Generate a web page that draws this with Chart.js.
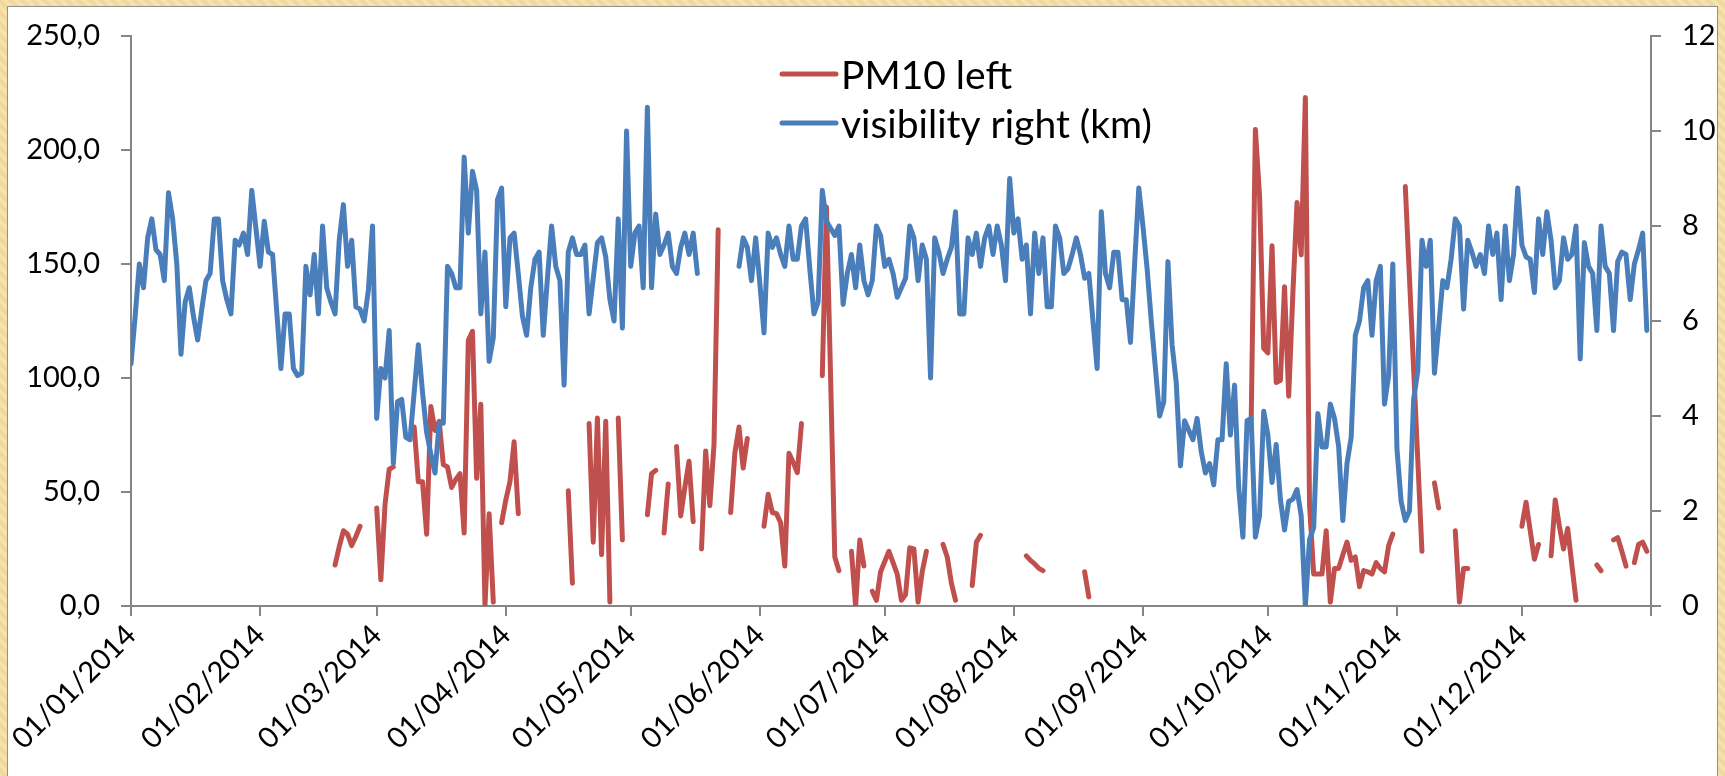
<!DOCTYPE html>
<html>
<head>
<meta charset="utf-8">
<script src="https://cdn.jsdelivr.net/npm/chart.js@4.4.1/dist/chart.umd.min.js"></script>
<style>
  html, body { margin: 0; padding: 0; }
  body {
    width: 1725px; height: 776px; overflow: hidden; position: relative;
    background: repeating-linear-gradient(45deg, #f7e5b2 0px, #f0d597 4px, #f7e5b2 8px);
  }
  #panel {
    position: absolute; left: 7px; top: 6px; width: 1709px; height: 780px;
    background: #fff; border: 1px solid #909090; border-bottom: none;
  }
  #wrap { position: absolute; left: 0; top: 0; width: 1709px; height: 769px; }
</style>
</head>
<body>
<div id="panel"><div id="wrap"><canvas id="pmChart"></canvas></div></div>
<script>
// tick positions (day of year) and labels for the date axis
const monthTicks = [0, 31, 59, 90, 120, 151, 181, 212, 243, 273, 304, 334, 365];
const tickLabels = ["01/01/2014", "01/02/2014", "01/03/2014", "01/04/2014", "01/05/2014", "01/06/2014",
  "01/07/2014", "01/08/2014", "01/09/2014", "01/10/2014", "01/11/2014", "01/12/2014", ""];

// daily PM10 (left axis), one value per day from 01/01/2014, null = missing
const pm10 = [
  null, null, null, null, null, null, null, null, null, null,
  null, null, null, null, null, null, null, null, null, null,
  null, null, null, null, null, null, null, null, null, null,
  null, null, null, null, null, null, null, null, null, null,
  null, null, null, null, null, null, null, null, null, 18,
  26, 33, 31.5, 26.5, 30.5, 35, null, null, null, 43,
  11.5, 44.5, 60, 61, null, null, null, null, 78.5, 54.5,
  54.5, 31.5, 87.5, 77, 81, 62, 61, 52, 55.5, 58,
  32, 116.5, 120.5, 56, 88.5, 0, 40.5, 1.7, null, 36.5,
  46.5, 54.5, 72, 40.5, null, null, null, null, null, null,
  null, null, null, null, null, 50.5, 10, null, null, null,
  80, 28, 82.5, 22.5, 81, 1.7, null, 82.5, 29, null,
  null, null, null, null, 40, 58, 59.5, null, 32, 53.5,
  null, 70, 39.5, 52, 63.5, 37, null, 25, 68, 44,
  71, 165, null, null, 41, 67, 78.5, 60.5, 73.5, null,
  null, null, 35, 49, 41, 40.5, 36.5, 17.5, 67, 63,
  58.5, 80, null, null, null, null, 101, 175, 100, 21.5,
  15.5, null, null, 24, 0, 29, 17.5, null, 6.5, 2.5,
  15, 19.5, 24, 19, 14, 2.5, 5, 25.5, 25, 1.7,
  15, 24, null, null, null, 27, 21.5, 10, 2.5, null,
  null, null, 9, 28, 31, null, null, null, null, null,
  null, null, null, null, null, 22, 20, 18.5, 16.5, 15.5,
  null, null, null, null, null, null, null, null, null, 15,
  4, null, null, null, null, null, null, null, null, null,
  null, null, null, null, null, null, null, null, null, null,
  null, null, null, null, null, null, null, null, null, null,
  null, null, null, null, null, null, null, null, null, 82,
  209, 180, 113, 111, 158, 98, 99, 140, 92, 137,
  177, 154, 223, 44.5, 14, 14, 14, 33, 1.7, 16.5,
  16.5, 22.5, 28, 20, 21.5, 8.5, 15.5, 15, 14, 19,
  16.5, 15, 26.5, 31.5, null, null, 184, 144, 104, 64,
  24, null, null, 54, 43, null, null, null, 33, 1.7,
  16.5, 16.5, null, null, null, null, null, null, null, null,
  null, null, null, null, 35, 45.5, 33, 20.5, 27, null,
  null, 22, 46.5, 35, 25, 34, 18, 2.5, null, null,
  null, null, 18, 15.5, null, null, 29, 30, 24, 17.5,
  null, 19, 27, 28, 24
];

// daily visibility in km (right axis)
const visibility = [
  5.1, 6.1, 7.2, 6.7, 7.75, 8.15, 7.5, 7.4, 6.85, 8.7,
  8.15, 7.2, 5.3, 6.4, 6.7, 6.1, 5.6, 6.25, 6.85, 7.0,
  8.15, 8.15, 6.85, 6.45, 6.15, 7.7, 7.6, 7.85, 7.4, 8.75,
  7.95, 7.15, 8.1, 7.45, 7.4, 6.2, 5.0, 6.15, 6.15, 5.0,
  4.85, 4.9, 7.15, 6.55, 7.4, 6.15, 8.0, 6.7, 6.4, 6.15,
  7.7, 8.45, 7.15, 7.7, 6.3, 6.25, 6.0, 6.65, 8.0, 3.95,
  5.0, 4.8, 5.8, 3.0, 4.3, 4.35, 3.55, 3.5, 4.5, 5.5,
  4.5, 3.65, 3.2, 2.8, 3.85, 3.85, 7.15, 7.0, 6.7, 6.7,
  9.45, 7.85, 9.15, 8.75, 6.15, 7.45, 5.15, 5.65, 8.55, 8.8,
  6.3, 7.75, 7.85, 7.0, 6.1, 5.7, 6.7, 7.3, 7.45, 5.7,
  6.9, 8.0, 7.15, 6.85, 4.65, 7.45, 7.75, 7.4, 7.4, 7.6,
  6.15, 6.9, 7.65, 7.75, 7.35, 6.45, 6.0, 8.15, 5.85, 10.0,
  7.15, 7.85, 8.0, 6.7, 10.5, 6.7, 8.25, 7.4, 7.6, 7.85,
  7.15, 7.0, 7.55, 7.85, 7.4, 7.85, 7.0, null, null, null,
  null, null, null, null, null, null, 7.15, 7.75, 7.55, 6.85,
  7.75, 6.8, 5.75, 7.85, 7.55, 7.75, 7.4, 7.15, 8.0, 7.3,
  7.3, 8.0, 8.15, 7.1, 6.15, 6.4, 8.75, 8.1, 7.95, 7.8,
  8.0, 6.35, 7.0, 7.4, 6.7, 7.6, 6.85, 6.55, 6.85, 8.0,
  7.8, 7.15, 7.3, 7.0, 6.5, 6.7, 6.9, 8.0, 7.75, 6.85,
  7.6, 7.3, 4.8, 7.75, 7.45, 7.0, 7.3, 7.55, 8.3, 6.15,
  6.15, 7.75, 7.4, 7.85, 7.15, 7.75, 8.0, 7.4, 8.0, 7.6,
  6.85, 9.0, 7.85, 8.15, 7.3, 7.6, 6.15, 7.85, 7.0, 7.75,
  6.3, 6.3, 8.0, 7.75, 7.0, 7.1, 7.4, 7.75, 7.4, 6.9,
  7.0, 6.0, 5.0, 8.3, 7.0, 6.7, 7.45, 7.45, 6.45, 6.45,
  5.55, 7.2, 8.8, 8.0, 7.1, 6.0, 5.0, 4.0, 4.3, 7.25,
  5.5, 4.7, 2.95, 3.9, 3.7, 3.5, 3.95, 3.25, 2.8, 3.0,
  2.55, 3.5, 3.5, 5.1, 3.6, 4.65, 2.5, 1.45, 3.9, 3.95,
  1.45, 1.9, 4.1, 3.6, 2.6, 3.4, 2.25, 1.6, 2.2, 2.25,
  2.45, 1.9, 0.0, 1.4, 1.65, 4.05, 3.35, 3.35, 4.25, 3.95,
  3.35, 1.8, 3.0, 3.55, 5.7, 6.0, 6.7, 6.85, 5.7, 6.85,
  7.15, 4.25, 4.85, 7.2, 3.3, 2.2, 1.8, 2.0, 4.35, 4.95,
  7.7, 7.15, 7.7, 4.9, 5.85, 6.85, 6.7, 7.3, 8.15, 8.0,
  6.25, 7.7, 7.45, 7.15, 7.4, 7.0, 8.0, 7.4, 7.85, 6.45,
  8.0, 6.85, 7.4, 8.8, 7.6, 7.35, 7.3, 6.6, 8.15, 7.4,
  8.3, 7.7, 6.7, 6.85, 7.75, 7.3, 7.4, 8.0, 5.2, 7.65,
  7.15, 7.0, 5.8, 8.0, 7.15, 7.0, 5.8, 7.25, 7.45, 7.4,
  6.45, 7.2, 7.5, 7.85, 5.8
];

const seriesNames = ["PM10 left", "visibility right (km)"];

const insideLegend = {
  id: "insideLegend",
  afterDraw(chart) {
    const ctx = chart.ctx;
    ctx.save();
    ctx.font = "39px Lato";
    ctx.textBaseline = "middle";
    chart.data.datasets.forEach(function (ds, row) {
      const y = 67 + row * 49;
      ctx.strokeStyle = ds.borderColor;
      ctx.lineWidth = 5;
      ctx.lineCap = "round";
      ctx.beginPath();
      ctx.moveTo(774, y);
      ctx.lineTo(828, y);
      ctx.stroke();
      ctx.fillStyle = "#000";
      ctx.fillText(ds.label, 833, y + 2);
    });
    ctx.restore();
  }
};

// keep the plot top where the reference has it (tick padding would push it down)
function fixVertical(scale, width) {
  scale.width = width;
  scale.paddingTop = 0;
  scale.paddingBottom = 0;
}

document.addEventListener("DOMContentLoaded", function () {
  const ctx = document.getElementById("pmChart").getContext("2d");
  const axisGrey = "#868686";
  const tickFont = { family: "Lato", size: 29 };

  new Chart(ctx, {
    type: "line",
    data: {
      datasets: [
        {
          label: seriesNames[0],
          data: pm10.map((v, i) => ({ x: i, y: v })),
          yAxisID: "y",
          borderColor: "#C0504D",
          borderWidth: 5,
          order: 2,
        },
        {
          label: seriesNames[1],
          data: visibility.map((v, i) => ({ x: i, y: v })),
          yAxisID: "y1",
          borderColor: "#4A7EBB",
          borderWidth: 5,
          order: 1,
        },
      ],
    },
    options: {
      responsive: true,
      maintainAspectRatio: false,
      animation: false,
      spanGaps: false,
      layout: { padding: { top: 29, left: 0, right: 0, bottom: 0 } },
      elements: {
        point: { radius: 0 },
        line: { tension: 0, borderJoinStyle: "round", borderCapStyle: "round" },
      },
      plugins: {
        legend: { display: false },
        tooltip: { enabled: false },
      },
      scales: {
        x: {
          type: "linear",
          min: 0,
          max: 365,
          afterBuildTicks: (scale) => { scale.ticks = monthTicks.map((v) => ({ value: v })); },
          afterFit: (scale) => { scale.height = 170; },
          ticks: {
            autoSkip: false,
            maxRotation: 45,
            minRotation: 45,
            color: "#000",
            font: tickFont,
            padding: 2,
            callback: (value) => {
              const i = monthTicks.indexOf(value);
              return i >= 0 ? tickLabels[i] : "";
            },
          },
          grid: { drawOnChartArea: false, drawTicks: true, tickLength: 10, color: axisGrey, lineWidth: 2 },
          border: { color: axisGrey, width: 2 },
        },
        y: {
          position: "left",
          min: 0,
          max: 250,
          afterFit: (scale) => fixVertical(scale, 123),
          ticks: {
            stepSize: 50,
            color: "#000",
            font: tickFont,
            padding: 21,
            callback: (value) => value.toFixed(1).replace(".", ","),
          },
          grid: { drawOnChartArea: false, drawTicks: true, tickLength: 10, color: axisGrey, lineWidth: 2 },
          border: { color: axisGrey, width: 2 },
        },
        y1: {
          position: "right",
          min: 0,
          max: 12,
          afterFit: (scale) => fixVertical(scale, 66),
          ticks: { stepSize: 2, color: "#000", font: tickFont, padding: 21 },
          grid: { drawOnChartArea: false, drawTicks: true, tickLength: 10, color: axisGrey, lineWidth: 2 },
          border: { color: axisGrey, width: 2 },
        },
      },
    },
    plugins: [insideLegend],
  });
});
</script>
</body>
</html>
